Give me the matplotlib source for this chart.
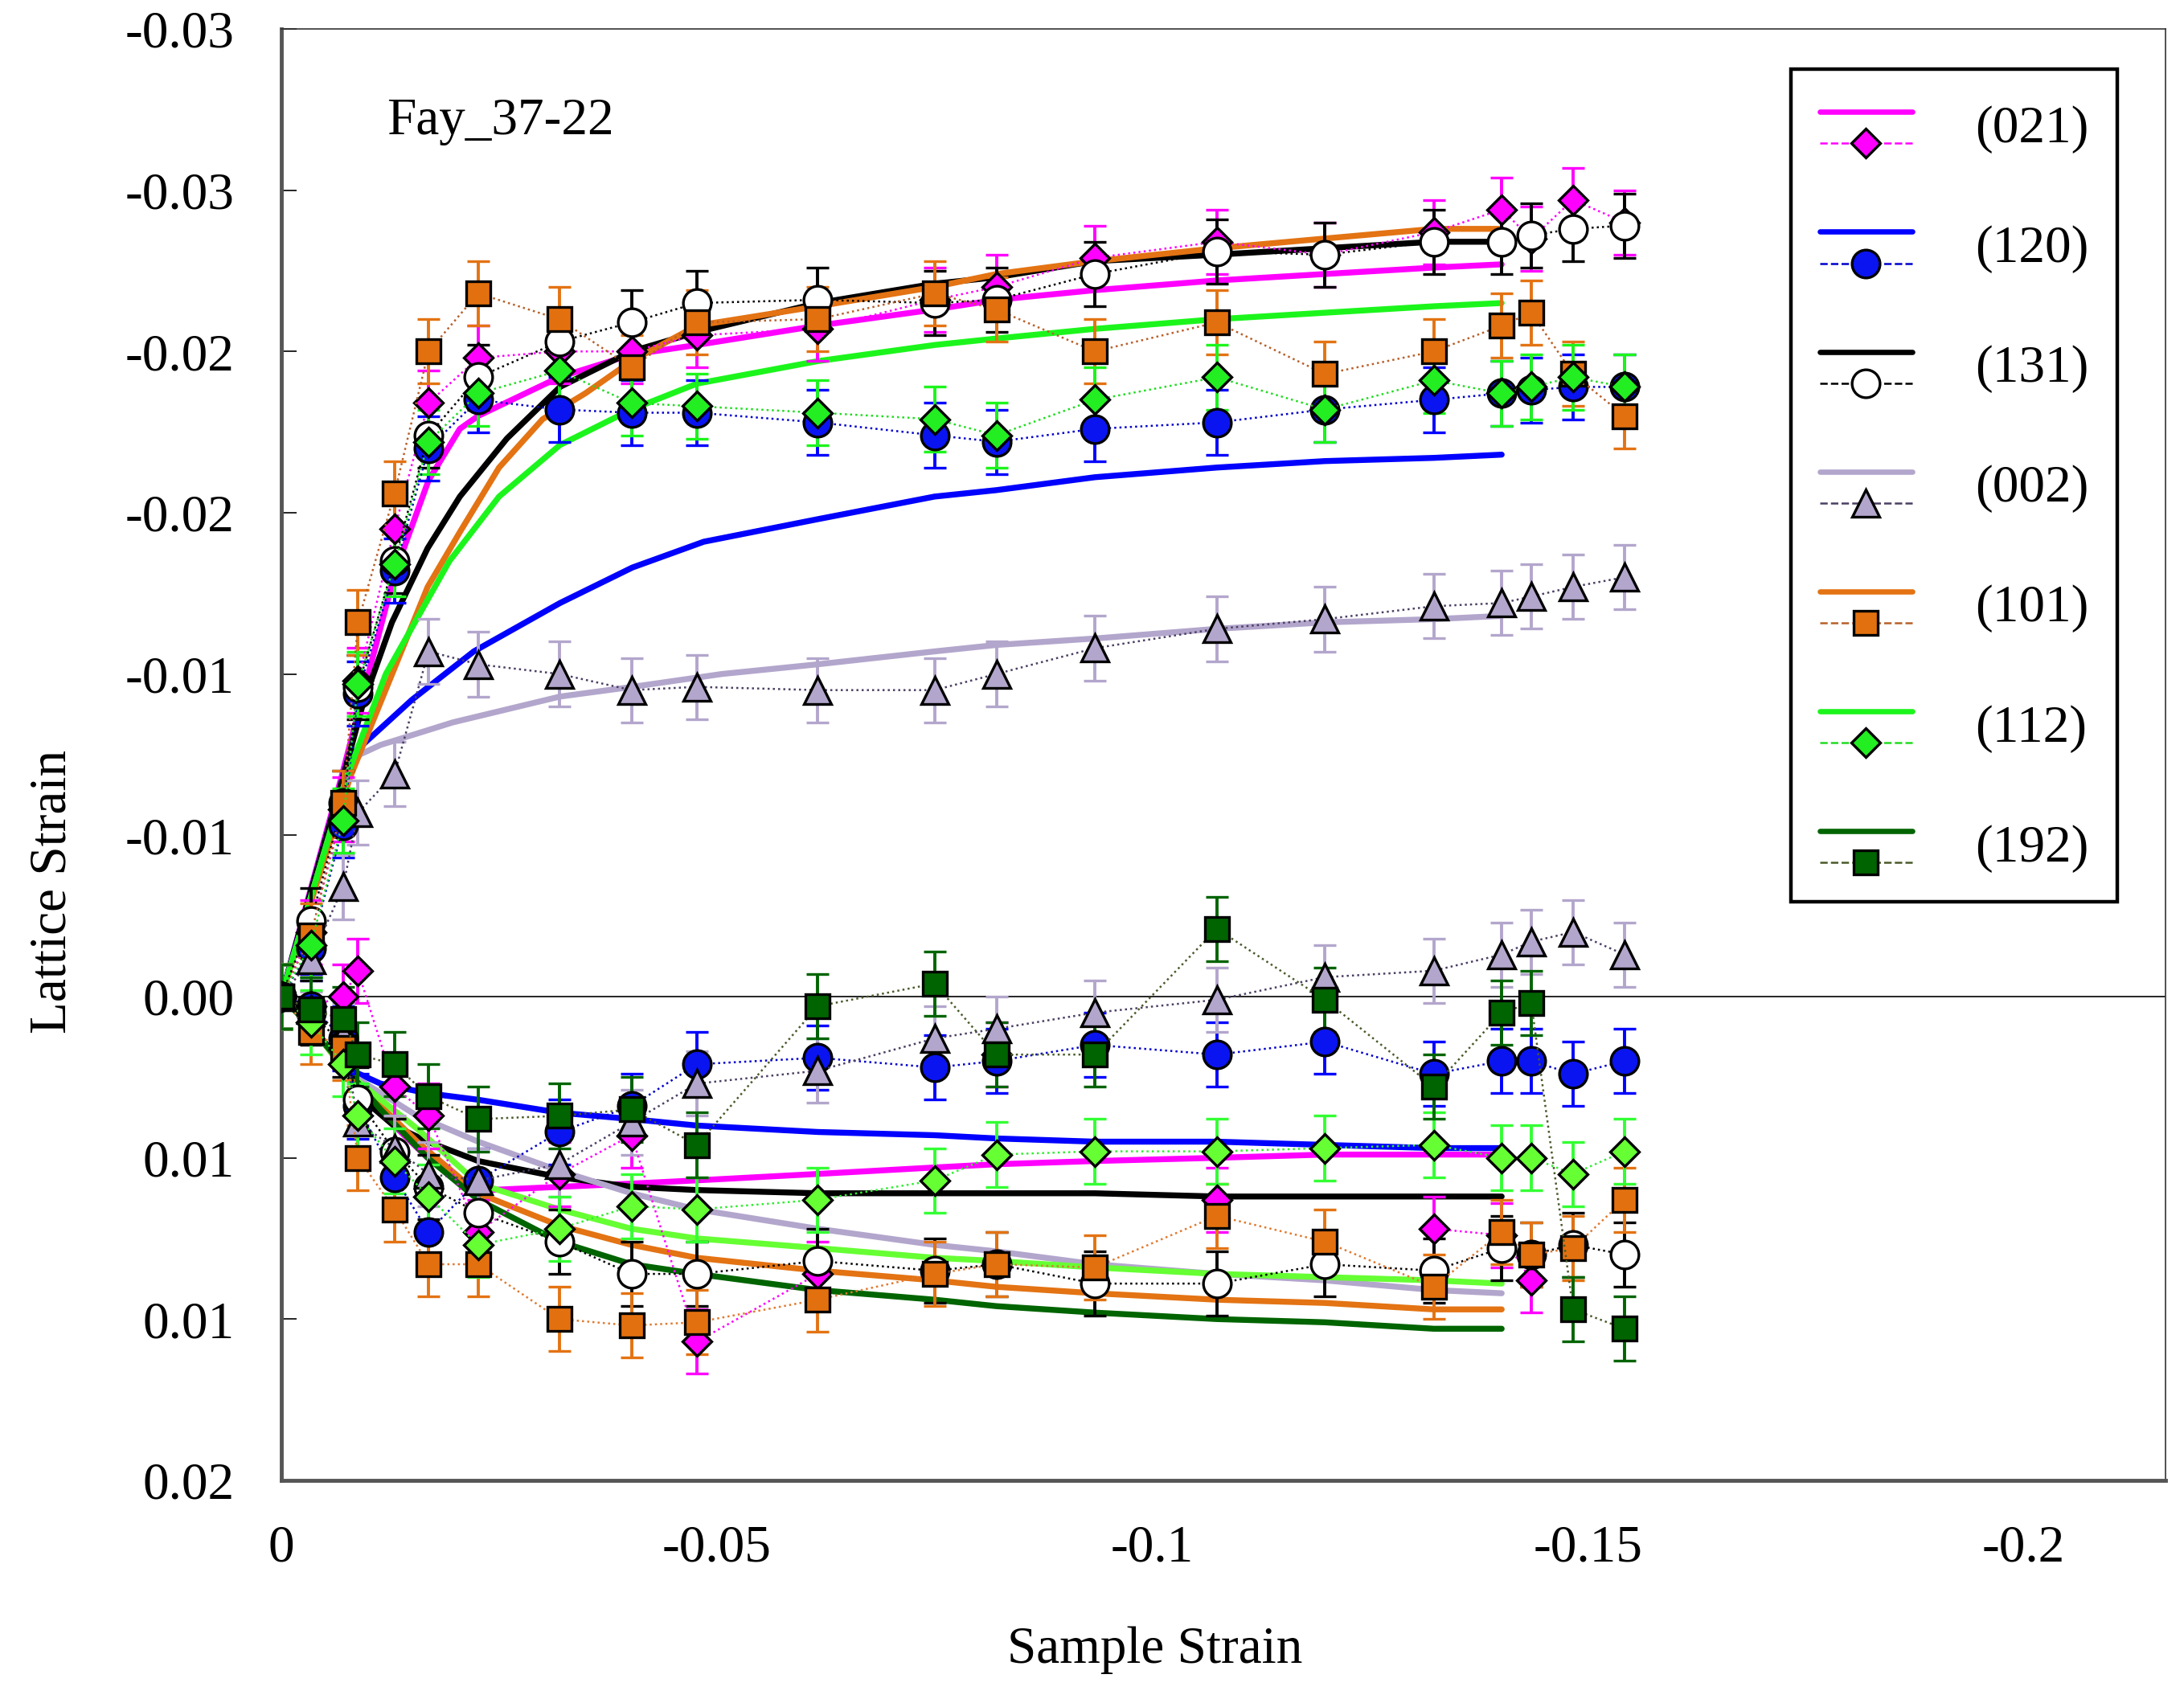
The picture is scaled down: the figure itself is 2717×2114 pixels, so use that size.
import numpy as np
import matplotlib.pyplot as plt
from matplotlib.lines import Line2D
from matplotlib.legend_handler import HandlerBase

plt.rcParams['font.family'] = ['Liberation Serif', 'DejaVu Serif']
plt.rcParams['font.size'] = 47

# sample strain of the measured points (shared by all peaks)
strain = [0, -0.0034, -0.0071, -0.0088, -0.0130, -0.0169, -0.0226, -0.0319, -0.0402, -0.0477,
          -0.0616, -0.0750, -0.0821, -0.0934, -0.1074, -0.1198, -0.1323, -0.1401, -0.1435,
          -0.1483, -0.1542]
bar = 0.001  # error bar half-height

# measured lattice strain, axial branch (negative) and transverse branch (positive)
p021_up = [0, -0.0020, -0.0058, -0.0098, -0.0145, -0.0184, -0.0198, -0.0200, -0.0200, -0.0205,
           -0.0207, -0.0216, -0.0220, -0.0229, -0.0234, -0.0230, -0.0237, -0.0244, -0.0235,
           -0.0247, -0.0240]
p021_lo = [0, 0.0003, 0.0000, -0.0008, 0.0028, 0.0037, 0.0073, 0.0055, 0.0043, 0.0107,
           0.0086, np.nan, 0.0018, np.nan, 0.0063, np.nan, 0.0072, 0.0074, 0.0088, np.nan, np.nan]
p120_up = [0, -0.0015, -0.0053, -0.0094, -0.0132, -0.0170, -0.0185, -0.0182, -0.0181, -0.0181,
           -0.0178, -0.0174, -0.0172, -0.0176, -0.0178, -0.0182, -0.0185, -0.0187, -0.0188,
           -0.0189, -0.0189]
p120_lo = [0, 0.0003, 0.0013, 0.0034, 0.0056, 0.0073, 0.0057, 0.0042, 0.0034, 0.0021,
           0.0019, 0.0022, 0.0020, 0.0015, 0.0018, 0.0014, 0.0024, 0.0020, 0.0020, 0.0024, 0.0020]
p131_up = [0, -0.00235, -0.0060, -0.0096, -0.0135, -0.0174, -0.0192, -0.0203, -0.0209, -0.0215,
           -0.0216, -0.0215, -0.0216, -0.0224, -0.0231, -0.0230, -0.0234, -0.0234, -0.0236,
           -0.0238, -0.0239]
p131_lo = [0, 0.0005, 0.0015, 0.0032, 0.0048, 0.0059, 0.0067, 0.0076, 0.0086, 0.0086,
           0.0082, 0.0085, 0.0083, 0.0089, 0.0089, 0.0083, 0.0085, 0.0078, 0.0080, 0.0077, 0.0080]
p002_up = [0, -0.00115, -0.0034, -0.0057, -0.0069, -0.0107, -0.0103, -0.0100, -0.0095, -0.0096,
           -0.0095, -0.0095, -0.0100, -0.0108, -0.0114, -0.0117, -0.0121, -0.0122, -0.0124,
           -0.0127, -0.0130]
p002_lo = [0, 0.0004, 0.0012, 0.0039, 0.0047, 0.0055, 0.0057, 0.0052, 0.0039, 0.0027,
           0.0023, 0.0013, 0.0010, 0.0005, 0.0001, -0.0006, -0.0008, -0.0013, -0.0017, -0.0020,
           -0.0013]
p101_up = [0, -0.0019, -0.0060, -0.0116, -0.0156, -0.0200, -0.0218, -0.0210, -0.0195, -0.0209,
           -0.0210, -0.0218, -0.0213, -0.0200, -0.0209, -0.0193, -0.0200, -0.0208, -0.0212,
           -0.0193, -0.0180]
p101_lo = [0, 0.0011, 0.0016, 0.0050, 0.0066, 0.0083, 0.0083, 0.0100, 0.0102, 0.0101,
           0.0094, 0.0086, 0.0083, 0.0084, 0.0068, 0.0076, 0.0090, 0.0073, 0.0080, 0.0078, 0.0063]
p112_up = [0, -0.0016, -0.00545, -0.0097, -0.0134, -0.0172, -0.0187, -0.0194, -0.0184, -0.0183,
           -0.0181, -0.0179, -0.0174, -0.0185, -0.0192, -0.0182, -0.0191, -0.0187, -0.0189,
           -0.0192, -0.0189]
p112_lo = [0, 0.0008, 0.0021, 0.0037, 0.0051, 0.0062, 0.0077, 0.0072, 0.0065, 0.0066,
           0.0063, 0.0057, 0.0049, 0.0048, 0.0048, 0.0047, 0.0046, 0.0050, 0.0050, 0.0055, 0.0048]
p192_lo = [0, 0.0004, 0.0007, 0.0018, 0.0021, 0.0031, 0.0038, 0.0037, 0.0035, 0.0046,
           0.0003, -0.0004, 0.0018, 0.0018, -0.0021, 0.0001, 0.0028, 0.0005, 0.0002, 0.0097, 0.0103]

# model curves
m021_up_x = [0, -0.0069, -0.0130, -0.0169, -0.0205, -0.0226, -0.0319, -0.0402, -0.0477, -0.0616,
             -0.0750, -0.0821, -0.0934, -0.1074, -0.1198, -0.1323, -0.1401]
m021_up_y = [0, -0.0068, -0.0131, -0.0160, -0.0176, -0.0180, -0.0192, -0.0199, -0.0202, -0.0208,
             -0.0213, -0.0216, -0.0219, -0.0222, -0.0224, -0.0226, -0.0227]
m131_up_x = [0, -0.0075, -0.0094, -0.0127, -0.0168, -0.0205, -0.0259, -0.0320, -0.0402, -0.0477,
             -0.0616, -0.0750, -0.0821, -0.0934, -0.1074, -0.1198, -0.1323, -0.1401]
m131_up_y = [0, -0.0072, -0.0091, -0.0116, -0.0139, -0.0155, -0.0173, -0.0189, -0.0200, -0.0206,
             -0.0215, -0.0221, -0.0223, -0.0228, -0.0230, -0.0232, -0.0234, -0.0234]
m101_up_x = [0, -0.0079, -0.0168, -0.0205, -0.0250, -0.0300, -0.0349, -0.0402, -0.0477, -0.0616,
             -0.0750, -0.0821, -0.0934, -0.1074, -0.1198, -0.1323, -0.1401]
m101_up_y = [0, -0.0068, -0.0127, -0.0144, -0.0164, -0.0179, -0.0187, -0.0197, -0.0208, -0.0214,
             -0.0220, -0.0224, -0.0228, -0.0232, -0.0235, -0.0238, -0.0238]
m112_up_x = [0, -0.0075, -0.0120, -0.0193, -0.0250, -0.0320, -0.0402, -0.0477, -0.0616, -0.0750,
             -0.0821, -0.0934, -0.1074, -0.1198, -0.1323, -0.1401]
m112_up_y = [0, -0.0068, -0.0100, -0.0135, -0.0155, -0.0171, -0.0182, -0.0190, -0.0197, -0.0202,
             -0.0204, -0.0207, -0.0210, -0.0212, -0.0214, -0.0215]
m120_up_x = [0, -0.0077, -0.0150, -0.0221, -0.0320, -0.0403, -0.0485, -0.0616, -0.0750, -0.0821,
             -0.0934, -0.1074, -0.1198, -0.1323, -0.1401]
m120_up_y = [0, -0.0074, -0.0092, -0.0107, -0.0122, -0.0133, -0.0141, -0.0148, -0.0155, -0.0157,
             -0.0161, -0.0164, -0.0166, -0.0167, -0.0168]
m002_up_x = [0, -0.0077, -0.0090, -0.0114, -0.0197, -0.0320, -0.0403, -0.0506, -0.0616, -0.0750,
             -0.0821, -0.0934, -0.1074, -0.1198, -0.1323, -0.1401]
m002_up_y = [0, -0.0070, -0.0075, -0.0078, -0.0085, -0.0093, -0.0096, -0.0100, -0.0103, -0.0107,
             -0.0109, -0.0111, -0.0114, -0.0116, -0.0117, -0.0118]

m021_lo_x = [0, -0.0034, -0.0073, -0.0114, -0.0168, -0.0205, -0.0238, -0.0320, -0.0402, -0.0477,
             -0.0616, -0.0750, -0.0821, -0.0934, -0.1074, -0.1198, -0.1323, -0.1401]
m021_lo_y = [0, 0.0009, 0.0022, 0.0036, 0.0050, 0.0057, 0.0060, 0.0059, 0.0058, 0.0057,
             0.0055, 0.0053, 0.0052, 0.0051, 0.0050, 0.0049, 0.0049, 0.0049]
m131_lo_x = [0, -0.0034, -0.0073, -0.0090, -0.0129, -0.0168, -0.0226, -0.0319, -0.0402, -0.0477,
             -0.0616, -0.0750, -0.0934, -0.1074, -0.1245, -0.1401]
m131_lo_y = [0, 0.0009, 0.0022, 0.0031, 0.0040, 0.0045, 0.0051, 0.0056, 0.0059, 0.0060,
             0.0061, 0.0061, 0.0061, 0.0062, 0.0062, 0.0062]
m120_lo_x = [0, -0.0034, -0.0073, -0.0114, -0.0168, -0.0226, -0.0319, -0.0402, -0.0477, -0.0616,
             -0.0750, -0.0821, -0.0934, -0.1074, -0.1198, -0.1323, -0.1401]
m120_lo_y = [0, 0.0009, 0.0022, 0.0027, 0.0030, 0.0032, 0.0036, 0.0038, 0.0040, 0.0042,
             0.0043, 0.0044, 0.0045, 0.0045, 0.0046, 0.0047, 0.0047]
m002_lo_x = [0, -0.0034, -0.0073, -0.0156, -0.0226, -0.0319, -0.0402, -0.0477, -0.0616, -0.0750,
             -0.0821, -0.0934, -0.1074, -0.1198, -0.1323, -0.1401]
m002_lo_y = [0, 0.0009, 0.0023, 0.0037, 0.0045, 0.0054, 0.0061, 0.0066, 0.0072, 0.0077,
             0.0079, 0.0083, 0.0086, 0.0088, 0.0091, 0.0092]
m112_lo_x = [0, -0.0034, -0.0073, -0.0156, -0.0226, -0.0319, -0.0402, -0.0477, -0.0616, -0.0750,
             -0.0821, -0.0934, -0.1074, -0.1198, -0.1323, -0.1401]
m112_lo_y = [0, 0.0009, 0.0023, 0.0041, 0.0058, 0.0066, 0.0072, 0.0075, 0.0078, 0.0081,
             0.0082, 0.0084, 0.0086, 0.0087, 0.0088, 0.0089]
m101_lo_x = [0, -0.0034, -0.0073, -0.0156, -0.0226, -0.0319, -0.0402, -0.0477, -0.0616, -0.0750,
             -0.0821, -0.0934, -0.1074, -0.1198, -0.1323, -0.1401]
m101_lo_y = [0, 0.0009, 0.0023, 0.0045, 0.0061, 0.0071, 0.0077, 0.0081, 0.0085, 0.0088,
             0.0090, 0.0092, 0.0094, 0.0095, 0.0097, 0.0097]
m192_lo_x = [0, -0.0032, -0.0073, -0.0114, -0.0168, -0.0226, -0.0319, -0.0402, -0.0477, -0.0616,
             -0.0750, -0.0821, -0.0934, -0.1074, -0.1198, -0.1323, -0.1401]
m192_lo_y = [0, 0.0009, 0.0022, 0.0035, 0.0050, 0.0063, 0.0076, 0.0083, 0.0086, 0.0091,
             0.0094, 0.0096, 0.0098, 0.0100, 0.0101, 0.0103, 0.0103]

labels = ['(021)', '(120)', '(131)', '(002)', '(101)', '(112)', '(192)']
xticks = [0, -0.05, -0.1, -0.15, -0.2]
xtick_labels = ['0', '-0.05', '-0.1', '-0.15', '-0.2']
yticks = [-0.030, -0.025, -0.020, -0.015, -0.010, -0.005, 0.0, 0.005, 0.010, 0.015]
ytick_labels = ['-0.03', '-0.03', '-0.02', '-0.02', '-0.01', '-0.01', '0.00', '0.01', '0.01', '0.02']


class PairHandler(HandlerBase):
    # solid model line on top, dotted data line with marker below
    def create_artists(self, legend, orig_handle, xdescent, ydescent, width, height, fontsize, trans):
        solid, data = orig_handle
        ymid = height / 2 - ydescent
        x0, x1 = -xdescent, width - xdescent
        top = Line2D([x0, x1], [ymid + 0.24 * fontsize] * 2, color=solid.get_color(),
                     lw=solid.get_linewidth() * 0.9, solid_capstyle='round')
        bot = Line2D([x0, x1], [ymid - 0.36 * fontsize] * 2, color=data.get_color(),
                     lw=data.get_linewidth(), ls=data.get_linestyle())
        mk = Line2D([(x0 + x1) / 2], [ymid - 0.36 * fontsize], ls='none',
                    marker=data.get_marker(), ms=data.get_markersize(),
                    mfc=data.get_markerfacecolor(), mec='black', mew=data.get_markeredgewidth())
        for a in (top, bot, mk):
            a.set_transform(trans)
        return [top, bot, mk]


fig = plt.figure(figsize=(27.17, 21.14), dpi=100)
ax = fig.add_axes([0.1288, 0.1287, 0.8627, 0.8543])

ax.axhline(0, color='black', lw=1.2, zorder=1)

dot = (0, (1, 1.6))


def model(xs, ys, color):
    return ax.plot(xs, ys, color=color, lw=5.3, zorder=2, solid_capstyle='round')[0]


def data(ys, marker, ms, fill, dcolor, ecolor):
    eb = ax.errorbar(strain, ys, yerr=bar, fmt=marker, ls=dot, lw=1.8, color=dcolor, ms=ms,
                     mfc=fill, mec='black', mew=2.4, ecolor=ecolor, elinewidth=2.8,
                     capsize=10, capthick=2.8, zorder=3)
    return eb[0]


handles = []

l1 = model(m021_up_x, m021_up_y, '#ff00ff')
model(m021_lo_x, m021_lo_y, '#ff00ff')
d1 = data(p021_up, 'D', 18, '#ff00ff', '#ff00ff', '#ff00ff')
data(p021_lo, 'D', 18, '#ff00ff', '#ff00ff', '#ff00ff')
handles.append((l1, d1))

l2 = model(m120_up_x, m120_up_y, '#0000ff')
model(m120_lo_x, m120_lo_y, '#0000ff')
d2 = data(p120_up, 'o', 25, '#0a14f0', '#0000cc', '#0000ff')
data(p120_lo, 'o', 25, '#0a14f0', '#0000cc', '#0000ff')
handles.append((l2, d2))

l3 = model(m131_up_x, m131_up_y, 'black')
model(m131_lo_x, m131_lo_y, 'black')
d3 = data(p131_up, 'o', 25, 'white', 'black', 'black')
data(p131_lo, 'o', 25, 'white', 'black', 'black')
handles.append((l3, d3))

l4 = model(m002_up_x, m002_up_y, '#b3a6cc')
model(m002_lo_x, m002_lo_y, '#b3a6cc')
d4 = data(p002_up, '^', 25, '#b3a6cc', '#4b3f63', '#b3a6cc')
data(p002_lo, '^', 25, '#b3a6cc', '#4b3f63', '#b3a6cc')
handles.append((l4, d4))

l5 = model(m101_up_x, m101_up_y, '#e37313')
model(m101_lo_x, m101_lo_y, '#e37313')
d5 = data(p101_up, 's', 21, '#e3700f', '#b8602a', '#e37313')
data(p101_lo, 's', 21, '#e3700f', '#e07a30', '#e37313')
handles.append((l5, d5))

l6 = model(m112_up_x, m112_up_y, '#1cf51c')
model(m112_lo_x, m112_lo_y, '#66ff33')
d6 = data(p112_up, 'D', 18, '#22ee22', '#22dd22', '#1cf51c')
data(p112_lo, 'D', 18, '#66ff33', '#33ee33', '#33ff33')
handles.append((l6, d6))

l7 = model(m192_lo_x, m192_lo_y, '#006400')
d7 = data(p192_lo, 's', 21, '#006400', '#4a5a2a', '#006400')
handles.append((l7, d7))

ax.set_xlim(0, -0.2163)
ax.set_ylim(0.015, -0.030)
ax.set_xticks(xticks)
ax.set_xticklabels(xtick_labels)
ax.set_yticks(yticks)
ax.set_yticklabels(ytick_labels)
ax.tick_params(axis='y', direction='in', length=14, width=1.2, pad=42, labelsize=47)
ax.tick_params(axis='x', direction='in', length=0, pad=40, labelsize=47)

for side in ('left', 'bottom'):
    ax.spines[side].set_linewidth(3.5)
    ax.spines[side].set_color('#555555')
for side in ('top', 'right'):
    ax.spines[side].set_linewidth(1.2)
    ax.spines[side].set_color('#333333')

ax.text(0.056, 0.936, 'Fay_37-22', transform=ax.transAxes, va='center', ha='left', fontsize=47)

leg = ax.legend(handles, labels, handler_map={tuple: PairHandler()}, loc='upper right',
                bbox_to_anchor=(0.9745, 0.9725), borderaxespad=0, fancybox=False,
                edgecolor='black', framealpha=1, fontsize=47, handlelength=1.75,
                handleheight=1.2, handletextpad=1.2, labelspacing=1.22, borderpad=0.55)
leg.get_frame().set_linewidth(3.2)

fig.text(0.0243, 0.4754, 'Lattice Strain', rotation=90, ha='center', va='center', fontsize=47)
fig.text(0.5287, 0.0289, 'Sample Strain', ha='center', va='center', fontsize=47)

fig.savefig('out.png', dpi=100)
